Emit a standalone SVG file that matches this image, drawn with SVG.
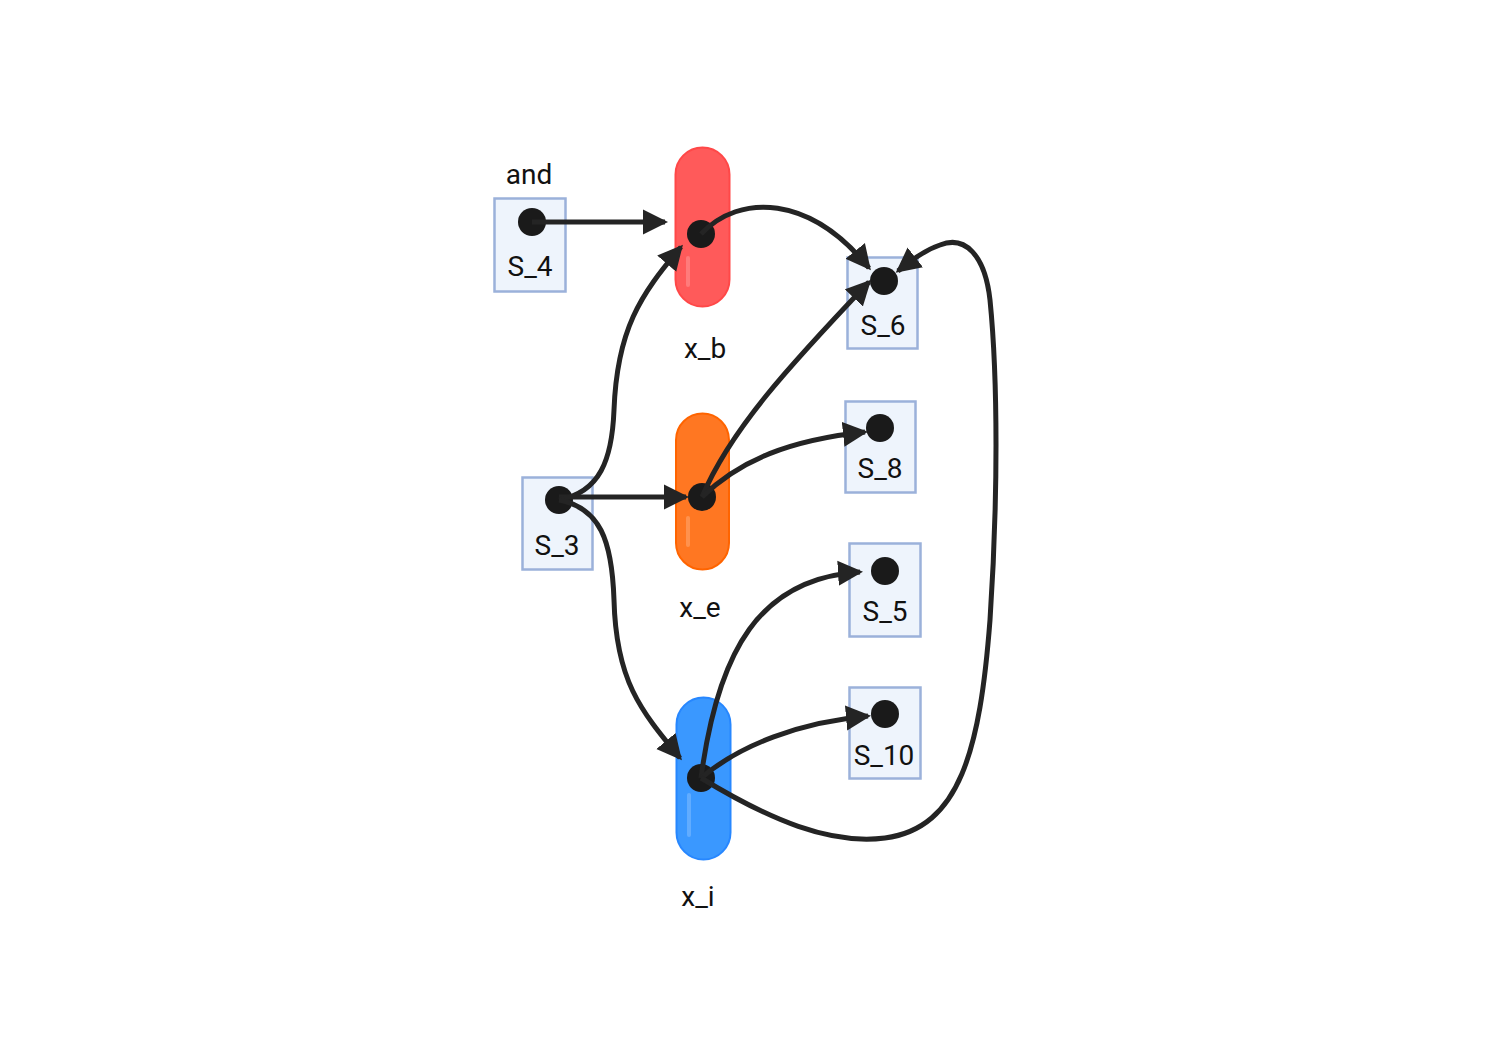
<svg xmlns="http://www.w3.org/2000/svg" width="1500" height="1050" viewBox="0 0 1500 1050">
<style>
.box{fill:#EEF4FC;stroke:#9BB1DA;stroke-width:2.5}
.dot{fill:#1A1A1A}
.lbl{font-family:Roboto,"Liberation Sans",sans-serif;font-size:28px;fill:#111;text-anchor:middle}
.edge{fill:none;stroke:#242424;stroke-width:5;marker-end:url(#arr)}
.hl{stroke:#FFFFFF;stroke-opacity:0.2;stroke-width:4;stroke-linecap:round}
</style>
<defs>
<marker id="arr" markerUnits="userSpaceOnUse" markerWidth="26" markerHeight="26" refX="22" refY="13" orient="auto">
<path d="M0,0.5 L25,13 L0,25.5 z" fill="#242424"/>
</marker>
</defs>
<rect width="1500" height="1050" fill="#FFFFFF"/>
<g id="S_4">
<text class="lbl" x="529" y="184">and</text>
<rect class="box" x="494.5" y="198.5" width="71" height="93"/>
<circle class="dot" cx="532" cy="222" r="14"/>
<text class="lbl" x="530" y="276">S_4</text>
</g>
<g id="x_b">
<rect x="675.5" y="147.5" width="54" height="159" rx="27" fill="#FF5A5A" stroke="#FF4848" stroke-width="2"/>
<line class="hl" x1="688" y1="258" x2="688" y2="285"/>
<circle class="dot" cx="701" cy="234" r="14"/>
<text class="lbl" x="705" y="358">x_b</text>
</g>
<g id="S_3">
<rect class="box" x="522.5" y="477.5" width="70" height="92"/>
<circle class="dot" cx="559" cy="500" r="14"/>
<text class="lbl" x="557" y="555">S_3</text>
</g>
<g id="x_e">
<rect x="676" y="413.5" width="53" height="156" rx="26.5" fill="#FF7722" stroke="#FF6400" stroke-width="2"/>
<line class="hl" x1="688" y1="518" x2="688" y2="545"/>
<circle class="dot" cx="702" cy="497" r="14"/>
<text class="lbl" x="700" y="617">x_e</text>
</g>
<g id="x_i">
<rect x="676.5" y="697.5" width="54" height="162" rx="27" fill="#3A98FF" stroke="#2787FF" stroke-width="2"/>
<line class="hl" x1="689" y1="795" x2="689" y2="835"/>
<circle class="dot" cx="701" cy="778" r="14"/>
<text class="lbl" x="698" y="906">x_i</text>
</g>
<g id="S_6">
<rect class="box" x="847.5" y="257.5" width="70" height="91"/>
<circle class="dot" cx="884" cy="281" r="14"/>
<text class="lbl" x="883" y="335">S_6</text>
</g>
<g id="S_8">
<rect class="box" x="845.5" y="401.5" width="70" height="91"/>
<circle class="dot" cx="880" cy="428" r="14"/>
<text class="lbl" x="880" y="478">S_8</text>
</g>
<g id="S_5">
<rect class="box" x="849.5" y="543.5" width="71" height="93"/>
<circle class="dot" cx="885" cy="571" r="14"/>
<text class="lbl" x="885" y="621">S_5</text>
</g>
<g id="S_10">
<rect class="box" x="849.5" y="687.5" width="71" height="91"/>
<circle class="dot" cx="885" cy="714" r="14"/>
<text class="lbl" x="884" y="765">S_10</text>
</g>
<g id="connectors">
<path class="edge" d="M532,222 L665,222"/>
<path class="edge" d="M559,497 L686,497"/>
<path class="edge" d="M559,500 C600,492 612,460 614,410 C617,330 640,295 681,247"/>
<path class="edge" d="M559,500 C600,508 612,540 614,600 C616,680 640,710 680,758"/>
<path class="edge" d="M701,234 C740,193 810,195 869,268"/>
<path class="edge" d="M702,497 C730,430 790,365 869,282"/>
<path class="edge" d="M702,497 C740,460 790,440 865,432"/>
<path class="edge" d="M701,778 C718,650 760,578 860,572"/>
<path class="edge" d="M701,778 C740,745 800,722 868,716"/>
<path class="edge" d="M701,778 C770,820 830,845 885,838 C960,828 980,750 990,620 C998,500 998,380 990,300 C985,255 965,235 940,245 C925,250 912,260 898,271"/>
</g>
</svg>
